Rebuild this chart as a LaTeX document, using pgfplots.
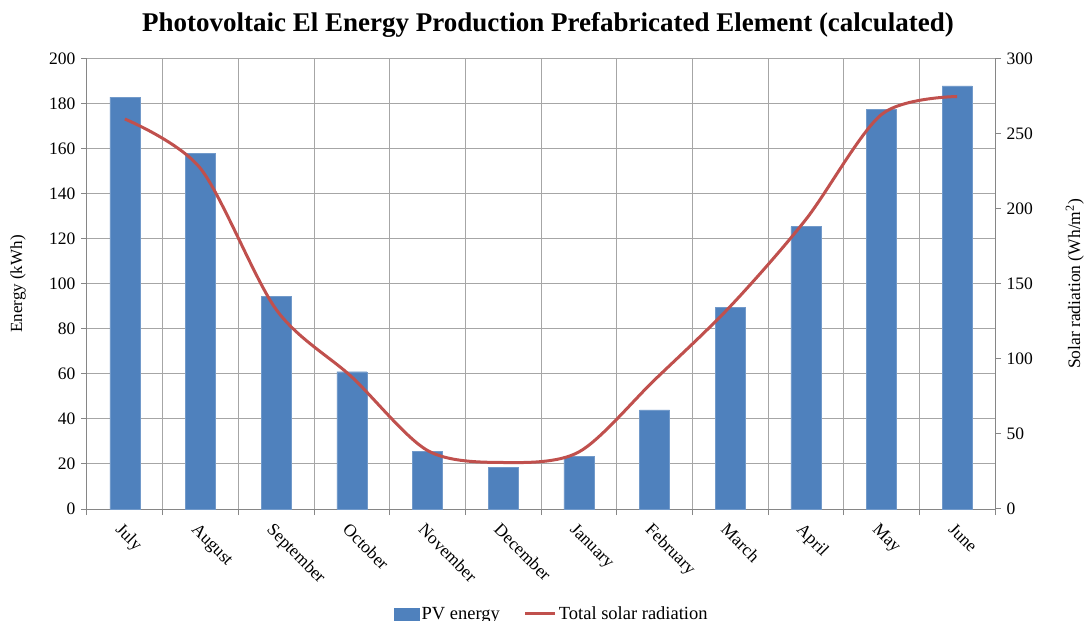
\documentclass[border=0pt]{standalone}
\usepackage{fontspec}
\setmainfont{Liberation Serif}
\usepackage{pgfplots}
\usepackage{pgfplotstable}
\pgfplotsset{compat=1.18}
\definecolor{barblue}{HTML}{4F81BD}
\definecolor{linered}{HTML}{C0504D}
\definecolor{gridgray}{HTML}{A6A6A6}
\definecolor{axgray}{HTML}{868686}

\pgfplotstableread{
idx energy rad
0 183 260
1 158 227
2 94.5 133
3 61 88
4 25.5 39
5 18.5 31
6 23.5 38
7 44 86
8 89.5 135
9 125.5 193
10 177.5 263
11 188 275
}\data

\begin{document}
\begin{tikzpicture}
\useasboundingbox (0pt,0pt) rectangle (1087pt,621pt);
\begin{axis}[
  at={(87pt,112pt)}, anchor=south west,
  scale only axis, width=908pt, height=450pt,
  xmin=-0.5, xmax=11.5, ymin=0, ymax=200,
  axis lines=left, axis line style={-, axgray, line width=1pt},
  ytick={0,20,...,200},
  xtick={0,...,11},
  xticklabels={July,August,September,October,November,December,January,February,March,April,May,June},
  minor xtick={-0.5,0.5,...,11.5},
  xminorgrids=true, ymajorgrids=true,
  grid style={gridgray, line width=1pt},
  minor grid style={gridgray, line width=1pt},
  tick align=outside,
  major tick length=6pt, minor tick length=6pt,
  major x tick style={draw=none},
  minor x tick style={axgray, line width=1pt},
  major y tick style={axgray, line width=1pt},
  /pgf/number format/assume math mode=true,
  tick label style={font=\fontsize{17.5}{20}\selectfont},
  y tick label style={xshift=-2pt},
  x tick label style={rotate=-45, anchor=north west, inner sep=1pt, xshift=3pt, yshift=-5pt},
  ylabel={Energy (kWh)},
  ylabel style={at={(axis description cs:-0.076,0.5)}, anchor=center, font=\fontsize{17}{20}\selectfont},
  legend style={at={(0.512,-0.233)}, anchor=center, draw=none, fill=none,
    legend columns=2, font=\fontsize{18.5}{21}\selectfont,
    /tikz/every even column/.append style={column sep=22pt}},
]
\addplot[ybar, bar width=30pt, fill=barblue, draw=barblue!80!white,
  area legend,
  legend image code/.code={\fill[barblue] (0pt,-6pt) rectangle (25pt,6pt);}]
  table[x=idx, y=energy]{\data};
\addlegendentry{PV energy}
\addlegendimage{linered, line width=3pt, legend image code/.code={\draw[linered, line width=3pt] (0pt,0pt) -- (30pt,0pt);}}
\addlegendentry{Total solar radiation}
\end{axis}
\begin{axis}[
  at={(87pt,112pt)}, anchor=south west,
  scale only axis, width=908pt, height=450pt,
  xmin=-0.5, xmax=11.5, ymin=0, ymax=300,
  axis y line*=right, axis x line=none,
  axis line style={-, axgray, line width=1pt},
  ytick={0,50,...,300},
  tick align=outside, major tick length=6pt,
  major y tick style={axgray, line width=1pt},
  /pgf/number format/assume math mode=true,
  tick label style={font=\fontsize{17.5}{20}\selectfont},
  y tick label style={xshift=2pt},
  ylabel={Solar radiation (Wh/m\textsuperscript{2})},
  ylabel style={at={(axis description cs:1.088,0.5)}, anchor=center, font=\fontsize{17.5}{20}\selectfont},
]
\addplot[linered, line width=3pt, smooth, tension=0.5] table[x=idx, y=rad]{\data};
\end{axis}
\node[font=\bfseries\fontsize{27}{31}\selectfont] at (548pt,596pt) {Photovoltaic El Energy Production Prefabricated Element (calculated)};
\end{tikzpicture}
\end{document}
